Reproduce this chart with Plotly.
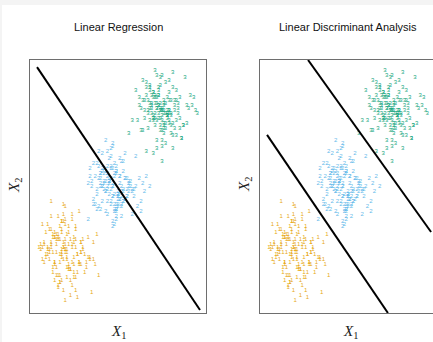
import plotly.graph_objects as go

# ---- data (units: box spans 0..10 on both axes) ----
class1_x = [1.2, 2.5, 1.8, 2.1, 1.5, 2.9, 1.9, 1.1, 2.3, 1.7,
            2.0, 2.6, 1.4, 0.8, 2.2, 1.9, 3.1, 1.6, 2.4, 1.3,
            1.8, 2.7, 2.0, 1.0, 1.5, 2.3, 1.9, 2.8, 1.7, 2.1,
            0.6, 1.6, 2.5, 1.2, 2.0, 3.4, 1.8, 2.2, 1.4, 2.6,
            1.9, 1.1, 2.4, 1.7, 2.9, 1.3, 2.1, 1.8, 0.9, 2.3,
            1.6, 2.7, 2.0, 1.5, 3.0, 1.9, 1.2, 2.2, 1.7, 2.5,
            2.0, 1.4, 3.6, 1.8, 2.4, 1.0, 2.1, 1.6, 2.8, 1.9,
            1.3, 2.3, 1.7, 2.6, 0.7, 2.0, 1.5, 2.2, 1.8, 3.2,
            1.9, 2.4, 1.6, 2.1, 1.2, 2.7, 1.8, 2.0, 1.4, 2.5,
            0.8, 3.0, 1.4, 2.6, 0.5, 2.2, 3.3, 1.0, 2.8, 1.6,
            2.4, 0.9, 3.5, 1.3, 2.0, 2.9, 1.1, 3.8, 1.7, 2.5,
            0.7, 2.1, 3.1, 1.5, 2.7, 1.2, 3.4, 0.6, 2.3, 1.9,
            2.9, 1.4, 3.7, 1.0, 2.6, 1.8, 3.2, 0.8, 2.2, 1.6,
            3.0, 1.3, 2.4, 0.9, 2.8, 1.7, 3.9, 1.1, 2.0, 2.6,
            1.5, 3.3, 0.7, 2.5, 1.2, 2.9, 1.8, 3.6, 1.4, 2.1]
class1_y = [2.6, 1.9, 3.2, 2.4, 1.5, 2.8, 3.6, 2.1, 2.9, 1.2,
            2.5, 3.3, 2.0, 2.7, 1.7, 3.9, 2.3, 1.0, 2.6, 3.1,
            2.2, 1.6, 2.9, 3.5, 2.4, 0.7, 2.8, 2.0, 3.4, 1.8,
            2.5, 3.0, 1.4, 2.7, 4.2, 2.1, 2.3, 1.9, 3.2, 2.6,
            0.9, 2.4, 3.7, 2.0, 2.8, 1.6, 3.1, 2.5, 2.2, 1.3,
            2.9, 2.3, 3.5, 1.8, 2.6, 2.1, 4.4, 2.7, 1.5, 3.0,
            2.4, 2.0, 2.8, 3.3, 1.1, 2.5, 2.2, 3.8, 1.9, 2.6,
            3.0, 1.7, 2.3, 2.9, 2.1, 0.5, 2.7, 3.4, 2.4, 1.8,
            2.6, 2.0, 3.1, 1.4, 2.8, 2.3, 3.6, 2.5, 1.9, 2.2,
            2.0, 2.9, 1.3, 3.4, 2.6, 1.8, 3.0, 2.3, 4.0, 1.5,
            2.7, 3.2, 0.8, 2.4, 3.7, 1.9, 2.5, 3.1, 1.2, 2.8,
            3.5, 2.1, 1.6, 2.9, 0.6, 3.3, 2.2, 2.7, 1.7, 4.3,
            2.4, 3.0, 1.9, 2.6, 1.4, 3.6, 2.0, 2.8, 3.2, 1.1,
            2.5, 1.8, 3.9, 2.3, 2.0, 2.9, 1.5, 3.3, 2.7, 0.9,
            3.1, 2.2, 2.6, 1.6, 3.8, 2.4, 1.3, 2.1, 3.0, 2.5]
class2_x = [4.7, 4.1, 5.3, 4.5, 5.0, 3.8, 4.9, 5.6, 4.3, 4.8,
            5.2, 4.0, 4.6, 5.9, 4.4, 4.9, 3.5, 5.1, 4.7, 4.2,
            5.4, 4.8, 3.9, 5.0, 4.5, 6.3, 4.6, 4.1, 5.2, 4.9,
            4.3, 5.7, 4.7, 3.7, 5.0, 4.4, 5.3, 4.8, 4.0, 5.5,
            4.6, 5.1, 3.3, 4.9, 4.2, 5.8, 4.7, 4.5, 5.0, 4.1,
            5.3, 4.8, 4.4, 6.0, 4.6, 3.9, 5.1, 4.7, 4.3, 5.4,
            4.9, 4.0, 5.6, 4.5, 5.0, 3.6, 4.8, 5.2, 4.4, 6.6,
            4.7, 4.2, 5.1, 4.6, 5.5, 3.8, 4.9, 4.3, 5.0, 4.7,
            4.5, 5.3, 4.1, 4.8, 6.8, 4.4, 5.2, 3.4, 4.9, 4.6,
            3.9, 5.5, 4.4, 6.1, 4.0, 5.2, 3.6, 4.9, 5.8, 4.2,
            5.0, 3.4, 4.6, 5.4, 6.4, 4.3, 5.1, 3.8, 4.7, 5.7,
            4.1, 5.3, 4.8, 3.5, 5.9, 4.5, 5.0, 6.2, 4.0, 4.9,
            5.6, 3.7, 4.4, 5.2, 4.7, 6.5, 3.9, 5.4, 4.2, 5.0,
            4.6, 5.8, 3.3, 4.9, 5.3, 4.1, 6.0, 4.5, 5.1, 3.8,
            4.8, 5.5, 4.3, 6.3, 4.0, 5.2, 4.7, 3.6, 5.6, 4.4]
class2_y = [5.0, 5.6, 4.4, 5.3, 4.7, 5.9, 4.1, 5.2, 4.8, 5.5,
            4.3, 5.1, 6.2, 4.6, 5.4, 3.8, 5.0, 4.5, 5.7, 4.9,
            5.3, 4.0, 5.8, 4.7, 5.1, 4.4, 6.5, 5.0, 4.2, 5.6,
            4.8, 5.2, 3.6, 5.4, 4.6, 5.0, 6.0, 4.3, 5.3, 4.9,
            5.7, 4.5, 5.1, 4.1, 5.5, 4.8, 3.4, 5.2, 4.7, 6.3,
            4.9, 5.4, 4.4, 5.0, 5.8, 4.2, 5.1, 4.6, 6.8, 5.3,
            4.0, 5.5, 4.8, 5.2, 4.3, 5.9, 4.7, 5.0, 3.9, 5.4,
            4.6, 5.1, 6.1, 4.4, 5.3, 4.9, 3.7, 5.6, 4.5, 5.0,
            5.2, 4.8, 5.7, 4.1, 5.0, 6.4, 4.6, 5.4, 4.3, 4.9,
            5.3, 4.6, 5.8, 4.2, 5.0, 6.0, 4.5, 5.5, 3.9, 5.2,
            4.8, 5.7, 4.3, 6.3, 5.1, 4.0, 5.4, 4.7, 6.6, 5.0,
            4.4, 5.6, 3.5, 5.2, 4.9, 6.1, 4.6, 5.3, 4.1, 5.8,
            5.0, 4.3, 5.5, 3.8, 5.1, 4.8, 6.4, 4.5, 5.7, 4.2,
            5.3, 4.9, 3.7, 5.6, 4.4, 5.0, 6.2, 4.7, 5.4, 4.1,
            5.9, 4.6, 5.2, 4.0, 5.5, 4.8, 6.7, 4.3, 5.1, 4.9]
class3_x = [7.5, 6.9, 8.1, 7.2, 7.8, 6.6, 7.4, 8.4, 7.0, 7.6,
            8.0, 7.3, 6.4, 7.7, 7.1, 8.6, 7.5, 6.8, 7.9, 7.2,
            7.6, 8.2, 6.7, 7.4, 7.0, 8.9, 7.5, 7.8, 6.2, 7.3,
            7.7, 7.1, 8.3, 6.9, 7.6, 7.4, 8.0, 5.8, 7.2, 7.9,
            7.5, 6.6, 8.5, 7.3, 7.0, 7.8, 9.3, 7.4, 6.8, 8.1,
            7.6, 7.1, 7.9, 6.5, 7.5, 8.3, 7.2, 7.7, 6.9, 8.7,
            7.4, 7.0, 7.8, 6.3, 7.6, 8.0, 7.3, 7.5, 9.0, 7.1,
            6.7, 7.9, 7.4, 8.2, 7.0, 7.6, 5.6, 7.8, 7.3, 8.4,
            7.5, 6.8, 7.7, 7.2, 8.1, 7.4, 6.5, 7.9, 7.1, 9.5,
            6.8, 8.3, 7.3, 6.4, 7.9, 7.1, 8.7, 6.6, 7.6, 8.1,
            7.0, 8.5, 6.2, 7.7, 7.3, 8.9, 6.9, 7.5, 8.2, 6.5,
            7.8, 7.2, 9.1, 6.7, 8.0, 7.4, 6.1, 7.9, 8.4, 7.0,
            7.6, 6.3, 8.6, 7.2, 7.8, 6.8, 8.2, 7.5, 9.4, 6.6,
            7.3, 8.0, 6.9, 7.7, 8.8, 7.1, 6.4, 8.3, 7.5, 6.0,
            7.9, 7.2, 8.5, 6.7, 7.6, 8.1, 7.0, 9.2, 7.4, 6.8]
class3_y = [8.0, 8.6, 7.5, 8.3, 7.8, 8.9, 7.2, 8.1, 7.7, 8.4,
            7.4, 8.2, 9.2, 7.9, 8.5, 6.9, 8.0, 7.6, 8.7, 8.1,
            7.3, 8.4, 7.9, 9.0, 7.6, 8.2, 6.6, 8.0, 8.5, 7.7,
            8.3, 7.4, 8.8, 7.9, 7.1, 8.1, 8.4, 7.6, 9.4, 8.0,
            7.8, 8.6, 7.3, 8.2, 6.3, 7.9, 8.5, 7.7, 8.1, 8.9,
            7.5, 8.3, 7.9, 8.0, 6.8, 8.4, 7.6, 9.1, 8.2, 7.4,
            8.0, 8.7, 7.8, 7.2, 8.3, 7.9, 8.6, 6.0, 8.1, 7.7,
            8.4, 7.5, 9.3, 8.0, 7.8, 8.2, 7.1, 8.5, 7.9, 8.3,
            7.6, 8.8, 7.3, 8.1, 6.5, 8.0, 7.7, 8.4, 9.6, 7.9,
            8.3, 7.6, 8.9, 7.2, 8.0, 8.6, 7.4, 9.1, 7.9, 7.0,
            8.5, 7.7, 8.2, 6.7, 8.8, 7.5, 8.1, 9.4, 7.3, 8.4,
            7.8, 6.5, 8.6, 8.0, 7.1, 8.3, 7.6, 9.2, 7.9, 8.7,
            7.4, 8.1, 6.9, 8.5, 7.7, 9.0, 8.2, 7.2, 8.0, 6.4,
            8.6, 7.8, 8.3, 7.5, 9.3, 7.9, 8.4, 7.0, 8.1, 8.8,
            7.6, 6.8, 8.5, 7.3, 8.0, 9.5, 7.7, 8.2, 7.4, 8.9]

class_labels = ["1", "2", "3"]
class_colors = ["#E69F00", "#56B4E9", "#009E73"]

# decision boundaries (segment endpoints)
lr_boundary_x = [0.40, 9.66]
lr_boundary_y = [9.72, 0.12]
lda_boundary12_x = [0.40, 7.27]
lda_boundary12_y = [7.04, 0.0]
lda_boundary23_x = [2.73, 9.72]
lda_boundary23_y = [10.0, 3.20]

titles = ["Linear Regression", "Linear Discriminant Analysis"]

# ---- figure ----
W, H = 433, 342
fig = go.Figure()

xs = [class1_x, class2_x, class3_x]
ys = [class1_y, class2_y, class3_y]

for axis_suffix in ["", "2"]:
    for lab, col, px, py in zip(class_labels, class_colors, xs, ys):
        fig.add_trace(go.Scatter(
            x=px, y=py, mode="text", text=[lab] * len(px),
            textfont=dict(size=6, color=col, family="Liberation Sans"),
            opacity=0.9, showlegend=False, hoverinfo="skip", cliponaxis=True,
            xaxis="x" + axis_suffix, yaxis="y" + axis_suffix))

line_style = dict(color="black", width=2)
fig.add_trace(go.Scatter(x=lr_boundary_x, y=lr_boundary_y, mode="lines",
                         line=line_style, showlegend=False, xaxis="x", yaxis="y"))
fig.add_trace(go.Scatter(x=lda_boundary12_x, y=lda_boundary12_y, mode="lines",
                         line=line_style, showlegend=False, xaxis="x2", yaxis="y2"))
fig.add_trace(go.Scatter(x=lda_boundary23_x, y=lda_boundary23_y, mode="lines",
                         line=line_style, showlegend=False, xaxis="x2", yaxis="y2"))

y_dom = [1 - 313 / H, 1 - 60 / H]
ax_common = dict(showgrid=False, zeroline=False, showticklabels=False,
                 ticks="", linecolor="#6e6e6e", linewidth=1.2)
fig.update_layout(
    width=W, height=H,
    margin=dict(l=0, r=0, t=0, b=0),
    paper_bgcolor="white", plot_bgcolor="white",
    xaxis=dict(domain=[30 / W, 206 / W], range=[0, 10], showline=True,
               mirror=True, anchor="y", **ax_common),
    yaxis=dict(domain=y_dom, range=[0, 10], showline=True, mirror=True,
               anchor="x", **ax_common),
    xaxis2=dict(domain=[260 / W, 1.0], range=[0, 10 * 173 / 176], showline=True,
                mirror=True, anchor="y2", **ax_common),
    yaxis2=dict(domain=y_dom, range=[0, 10], showline=True, mirror=False,
                anchor="x2", **ax_common),
)

# light gray page strip at top/left
fig.add_shape(type="rect", xref="paper", yref="paper", x0=0, x1=1,
              y0=1 - 5 / H, y1=1, fillcolor="#f4f4f4", line_width=0, layer="below")
fig.add_shape(type="rect", xref="paper", yref="paper", x0=0, x1=2 / W,
              y0=0, y1=1, fillcolor="#f4f4f4", line_width=0, layer="below")

title_font = dict(family="Liberation Sans", size=11, color="#111")
label_font = dict(family="Liberation Serif", size=15, color="#222")
for cx, t in zip([118 / W, 348 / W], titles):
    fig.add_annotation(x=cx, y=1 - 27 / H, xref="paper", yref="paper", text=t,
                       showarrow=False, font=title_font, xanchor="center", yanchor="middle")
for cx in [118 / W, 350 / W]:
    fig.add_annotation(x=cx, y=1 - 332 / H, xref="paper", yref="paper",
                       text="<i>X</i><sub>1</sub>", showarrow=False, font=label_font,
                       xanchor="center", yanchor="middle")
for cx in [15 / W, 245 / W]:
    fig.add_annotation(x=cx, y=1 - 185 / H, xref="paper", yref="paper",
                       text="<i>X</i><sub>2</sub>", showarrow=False, textangle=-90,
                       font=label_font, xanchor="center", yanchor="middle")

fig.write_html("out.html", config={"displayModeBar": False},
               post_script="document.body.style.margin='0';")
